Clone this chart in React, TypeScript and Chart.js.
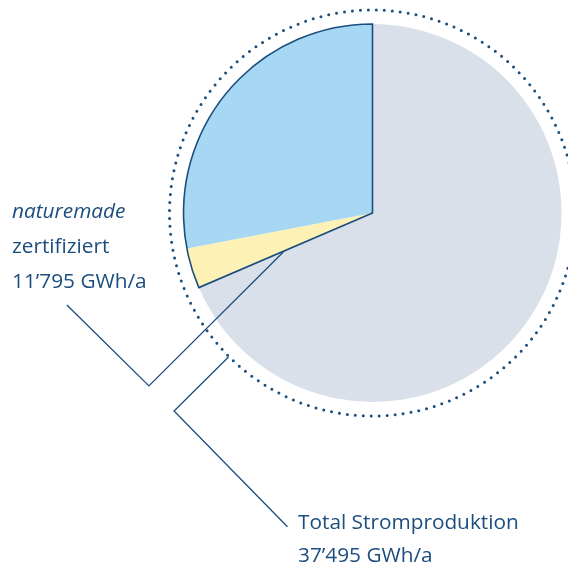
import React, { useEffect, useRef } from "react";
import { Chart, registerables } from "chart.js";

Chart.register(...registerables);

const categories = ["Übrige Stromproduktion", "naturemade star", "naturemade basic"];
const values = [25700, 1295, 10500];
const sliceColors = ["#d9e0ea", "#fdf1b5", "#a6d8f3"];
const totalLabel = ["Total Stromproduktion", "37’495 GWh/a"];
const certLabel = ["naturemade", "zertifiziert", "11’795 GWh/a"];

const NAVY = "#1b4d7e";

const overlayPlugin = {
  id: "overlay",
  afterDatasetsDraw(chart: any) {
    const ctx = chart.ctx;
    const meta = chart.getDatasetMeta(0);
    const arcs = meta.data;
    if (!arcs.length) return;
    const a0 = arcs[0];
    const cx = a0.x;
    const cy = a0.y;
    const r = a0.outerRadius;

    // outline of certified part (slices 1 and 2 together)
    const start = arcs[1].startAngle;
    const end = arcs[2].endAngle;
    ctx.save();
    ctx.strokeStyle = NAVY;
    ctx.lineWidth = 1.6;
    ctx.lineJoin = "miter";
    ctx.beginPath();
    ctx.moveTo(cx, cy);
    ctx.arc(cx, cy, r, start, end);
    ctx.closePath();
    ctx.stroke();

    // dotted outer ring
    ctx.beginPath();
    ctx.setLineDash([0, 8]);
    ctx.lineCap = "round";
    ctx.lineWidth = 3;
    ctx.arc(cx, cy, r * 1.074, 0, Math.PI * 2);
    ctx.stroke();
    ctx.setLineDash([]);

    // callout lines (relative to pie geometry)
    ctx.lineCap = "butt";
    ctx.lineWidth = 1.3;
    const p = (fx: number, fy: number) => [cx + fx * r, cy + fy * r];
    const l1 = [p(-0.472, 0.206), p(-1.183, 0.915), p(-1.617, 0.487)];
    const l2 = [p(-0.762, 0.762), p(-1.05, 1.048), p(-0.45, 1.66)];
    [l1, l2].forEach((pts) => {
      ctx.beginPath();
      ctx.moveTo(pts[0][0], pts[0][1]);
      for (let i = 1; i < pts.length; i++) ctx.lineTo(pts[i][0], pts[i][1]);
      ctx.stroke();
    });
    ctx.restore();
  },
};

export default function App() {
  const ref = useRef<HTMLCanvasElement>(null);
  useEffect(() => {
    if (!ref.current) return;
    const chart = new Chart(ref.current, {
      type: "pie",
      data: {
        labels: categories,
        datasets: [
          {
            data: values,
            backgroundColor: sliceColors,
            borderWidth: 0,
          },
        ],
      },
      options: {
        animation: false,
        responsive: false,
        maintainAspectRatio: false,
        layout: { padding: { left: 183.5, right: 6.5, top: 24, bottom: 165 } },
        plugins: { legend: { display: false }, tooltip: { enabled: false } },
      },
      plugins: [overlayPlugin],
    });
    return () => chart.destroy();
  }, []);

  const font = "'Open Sans', sans-serif";
  const textStyle = (left: number, top: number, italic = false): React.CSSProperties => ({
    position: "absolute",
    left,
    top,
    fontFamily: font,
    fontSize: 20.8,
    lineHeight: "20px",
    color: NAVY,
    fontStyle: italic ? "italic" : "normal",
    whiteSpace: "nowrap",
  });

  return (
    <div style={{ position: "fixed", left: 0, top: 0, width: 568, height: 567, background: "#fff" }}>
      <canvas ref={ref} width={568} height={567} style={{ position: "absolute", left: 0, top: 0 }} />
      <div style={textStyle(12, 200, true)}>{certLabel[0]}</div>
      <div style={textStyle(12, 235)}>{certLabel[1]}</div>
      <div style={textStyle(12, 270)}>{certLabel[2]}</div>
      <div style={textStyle(298, 511)}>{totalLabel[0]}</div>
      <div style={textStyle(298, 544)}>{totalLabel[1]}</div>
    </div>
  );
}
